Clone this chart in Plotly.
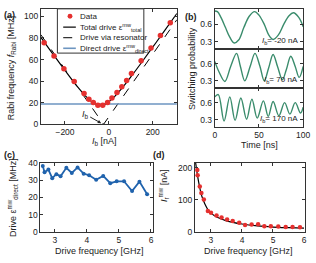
import plotly.graph_objects as go

W, H = 316, 263
FONT = "Liberation Sans, Arial, sans-serif"

# ---------------- data ----------------
# (a) Rabi frequency vs bias current
ib_data = [-295, -250, -205, -158, -113, -91, -71, -50, -28, -6, 14, 37, 59, 81, 103, 147, 192, 235, 280]
frabi_data = [75.6, 63.3, 51.5, 39.7, 28.5, 23.2, 20.3, 17.7, 17.7, 20.3, 24.4, 29.4, 34.7, 40.6, 47.0, 58.9, 70.6, 82.3, 94.2]
ib_total = [-310, -250, -200, -150, -100, -70, -39, -10, 20, 60, 100, 150, 200, 250, 310]
f_total = [80.5, 63.7, 49.9, 36.6, 24.9, 19.7, 17.5, 19.4, 24.5, 33.6, 43.9, 57.5, 71.5, 85.6, 102.7]
ib_res = [-310, -24, 310]
f_res = [83.0, 0.0, 96.9]
ib_direct = [-310, 310]
f_direct = [18.8, 18.8]

# (b) switching probability time traces
t1 = [0, 3, 7, 12, 17, 22, 27, 33, 39, 45, 50, 56, 61, 66, 72, 78, 84, 89, 95, 100]
p1 = [0.83, 0.82, 0.72, 0.55, 0.38, 0.28, 0.33, 0.55, 0.74, 0.82, 0.76, 0.60, 0.42, 0.34, 0.42, 0.60, 0.75, 0.80, 0.72, 0.56]
t2 = [0, 5, 11.4, 18, 24.6, 29, 34, 40, 45.5, 51, 56, 61, 66, 71, 76.5, 81, 86, 91, 95.5, 100]
p2 = [0.64, 0.45, 0.29, 0.55, 0.78, 0.55, 0.30, 0.55, 0.78, 0.56, 0.30, 0.53, 0.76, 0.55, 0.32, 0.50, 0.73, 0.55, 0.36, 0.55]
t3 = [0, 4, 10.5, 17, 23, 29.5, 36, 42, 48, 55, 60.5, 66, 72.5, 79, 85, 91, 97, 100]
p3 = [0.70, 0.74, 0.28, 0.70, 0.29, 0.68, 0.31, 0.66, 0.33, 0.63, 0.36, 0.62, 0.37, 0.60, 0.40, 0.60, 0.42, 0.52]
ib_labels = ["-20", "70", "170"]

# (c) direct drive vs drive frequency
freq_c = [2.625, 2.68, 2.80, 2.92, 3.05, 3.18, 3.36, 3.53, 3.71, 3.90, 4.07, 4.29, 4.51, 4.73, 4.93, 5.16, 5.41, 5.64, 5.88]
drive_c = [38.2, 34.5, 36.1, 31.1, 33.4, 32.2, 37.1, 34.1, 37.3, 33.7, 32.8, 30.2, 32.4, 28.2, 29.3, 29.3, 23.7, 29.1, 21.8]

# (d) resonator current vs drive frequency
freq_d = [2.56, 2.57, 2.64, 2.69, 2.77, 2.90, 3.00, 3.18, 3.34, 3.52, 3.70, 3.91, 4.10, 4.31, 4.52, 4.72, 4.93, 5.17, 5.41, 5.63, 5.87]
ir_d = [193.7, 176.8, 141.6, 121.4, 101.5, 65.4, 60.2, 51.2, 45.2, 39.2, 34.1, 29.2, 22.0, 23.2, 24.1, 18.1, 18.1, 17.2, 16.0, 16.0, 15.0]
freq_fit = [2.5, 2.55, 2.6, 2.65, 2.7, 2.8, 2.9, 3.0, 3.2, 3.5, 4.0, 4.5, 5.0, 5.5, 6.0]
ir_fit = [220, 186, 157, 133, 113, 88, 70, 59, 46, 35, 25, 19, 15.5, 13.5, 12]

RED = "#e5302f"
BLUE_C = "#2063ad"
BLUE_A = "#6d95c0"
GREEN = "#3a8c6c"
AX = "#333333"


def px(x):
    return x / W


def py(y):
    return 1 - y / H


fig = go.Figure()

# (a)
fig.add_trace(go.Scatter(x=ib_res, y=f_res, mode="lines", line=dict(color="black", width=1, dash="dash"),
                         xaxis="x", yaxis="y"))
fig.add_trace(go.Scatter(x=ib_direct, y=f_direct, mode="lines", line=dict(color=BLUE_A, width=1.6),
                         xaxis="x", yaxis="y"))
fig.add_trace(go.Scatter(x=ib_total, y=f_total, mode="lines", line=dict(color="black", width=1.2, shape="spline"),
                         xaxis="x", yaxis="y"))
fig.add_trace(go.Scatter(x=ib_data, y=frabi_data, mode="markers", marker=dict(color=RED, size=5.5),
                         xaxis="x", yaxis="y"))

# (b)
for i, (t, p) in enumerate([(t1, p1), (t2, p2), (t3, p3)]):
    fig.add_trace(go.Scatter(x=t, y=p, mode="lines", line=dict(color=GREEN, width=1.4, shape="spline", smoothing=1),
                             xaxis="x%d" % (i + 2), yaxis="y%d" % (i + 2)))

# (c)
fig.add_trace(go.Scatter(x=freq_c, y=drive_c, mode="lines+markers", line=dict(color=BLUE_C, width=1.8),
                         marker=dict(color=BLUE_C, size=4), xaxis="x5", yaxis="y5"))

# (d)
fig.add_trace(go.Scatter(x=freq_fit, y=ir_fit, mode="lines", line=dict(color="black", width=1.2, shape="spline"),
                         xaxis="x6", yaxis="y6"))
fig.add_trace(go.Scatter(x=freq_d, y=ir_d, mode="markers", marker=dict(color=RED, size=4.5),
                         xaxis="x6", yaxis="y6"))


def axis(domain, rng, **kw):
    d = dict(domain=domain, range=rng, showline=True, linecolor=AX, linewidth=1, mirror="ticks",
             ticks="inside", ticklen=3, tickwidth=1, tickcolor=AX, showgrid=False, zeroline=False,
             tickfont=dict(size=8.5, color="#222", family=FONT))
    d.update(kw)
    return d


bx = [px(219), px(310)]
b_rows = [(4.5, 45.5), (45.5, 86), (86, 126.5)]

layout = dict(
    width=W, height=H, margin=dict(l=0, r=0, t=0, b=0), showlegend=False,
    paper_bgcolor="white", plot_bgcolor="white", font=dict(family=FONT, color="#222"),
    xaxis=axis([px(40), px(180)], [-310, 310], tickvals=[-200, 0, 200], anchor="y"),
    yaxis=axis([py(124), py(4)], [0, 107], tickvals=[0, 20, 40, 60, 80, 100], anchor="x"),
    xaxis5=axis([px(39.5), px(155)], [2.55, 6.05], tickvals=[3, 4, 5, 6], anchor="y5"),
    yaxis5=axis([py(236), py(164)], [0, 40], tickvals=[0, 10, 20, 30, 40], anchor="x5"),
    xaxis6=axis([px(198.5), px(311.5)], [2.48, 6.02], tickvals=[3, 4, 5, 6], anchor="y6"),
    yaxis6=axis([py(236), py(164)], [0, 216], tickvals=[0, 100, 200], anchor="x6"),
)
for i, (top, bot) in enumerate(b_rows):
    n = i + 2
    layout["xaxis%d" % n] = axis(bx, [0, 100], tickvals=[0, 50, 100], anchor="y%d" % n,
                                 showticklabels=(i == 2))
    layout["yaxis%d" % n] = axis([py(bot), py(top)], [0.18, 0.86], tickvals=[0.3, 0.6], anchor="x%d" % n)

ann = []


def text(x, y, s, size=9, angle=0, xanchor="center", bold=False):
    if bold:
        s = "<b>" + s + "</b>"
    ann.append(dict(x=px(x), y=py(y), xref="paper", yref="paper", text=s, showarrow=False,
                    textangle=angle, xanchor=xanchor, yanchor="middle",
                    font=dict(size=size, family=FONT, color="#222")))


# panel letters
text(8, 10, "(a)", 9, bold=True)
text(195, 12, "(b)", 9, bold=True)
text(8, 156, "(c)", 9, bold=True)
text(162, 156, "(d)", 9, bold=True)

# axis titles
text(10, 65, "Rabi frequency <i>f</i><sub>Rabi</sub> [MHz]", 9, angle=-90)
text(106, 142, "<i>I</i><sub>b</sub> [nA]", 9)
text(196, 66, "Switching probability", 9, angle=-90)
text(265, 146, "Time [ns]", 9)
text(11, 200, "Drive ε<sup>mw</sup><sub>direct</sub> [MHz]", 9, angle=-90)
text(100, 256, "Drive frequency [GHz]", 9)
text(167, 188, "<i>I</i><sub>r</sub><sup>mw</sup> [nA]", 9, angle=-90)
text(254, 256, "Drive frequency [GHz]", 9)

# (b) labels
for (top, bot), lab in zip(b_rows, ib_labels):
    text(307, bot - 8.5, "<i>I</i><sub>b</sub>= %s nA" % lab, 8, xanchor="right")

# Ib arrow in (a)
ann.append(dict(x=-35, y=1, xref="x", yref="y", text="<i>I</i><sub>b</sub>", showarrow=True,
                ax=-16, ay=-9, arrowhead=2, arrowsize=0.7, arrowwidth=1, arrowcolor="#222",
                font=dict(size=9, family=FONT, color="#222")))

# manual legend for (a)
shapes = [dict(type="rect", xref="paper", yref="paper", x0=px(57), x1=px(146), y0=py(50), y1=py(4),
               fillcolor="white", line=dict(color=AX, width=1), layer="above")]
leg_rows = [11.7, 23, 34, 45]
shapes.append(dict(type="circle", xref="paper", yref="paper", x0=px(67.5), x1=px(72.5),
                   y0=py(leg_rows[0] + 2.5), y1=py(leg_rows[0] - 2.5), fillcolor=RED, line=dict(width=0), layer="above"))
shapes.append(dict(type="line", xref="paper", yref="paper", x0=px(63), x1=px(76), y0=py(leg_rows[1]), y1=py(leg_rows[1]),
                   line=dict(color="black", width=1.2), layer="above"))
shapes.append(dict(type="line", xref="paper", yref="paper", x0=px(63), x1=px(76), y0=py(leg_rows[2]), y1=py(leg_rows[2]),
                   line=dict(color="black", width=1, dash="dash"), layer="above"))
shapes.append(dict(type="line", xref="paper", yref="paper", x0=px(63), x1=px(76), y0=py(leg_rows[3]), y1=py(leg_rows[3]),
                   line=dict(color=BLUE_A, width=1.6), layer="above"))
leg_txt = ["Data", "Total drive ε<sup>mw</sup><sub>total</sub>", "Drive via resonator",
           "Direct drive ε<sup>mw</sup><sub>direct</sub>"]
for yy, s in zip(leg_rows, leg_txt):
    text(78, yy, s, 8, xanchor="left")

layout["annotations"] = ann
layout["shapes"] = shapes
fig.update_layout(**layout)
fig.write_html("out.html")
